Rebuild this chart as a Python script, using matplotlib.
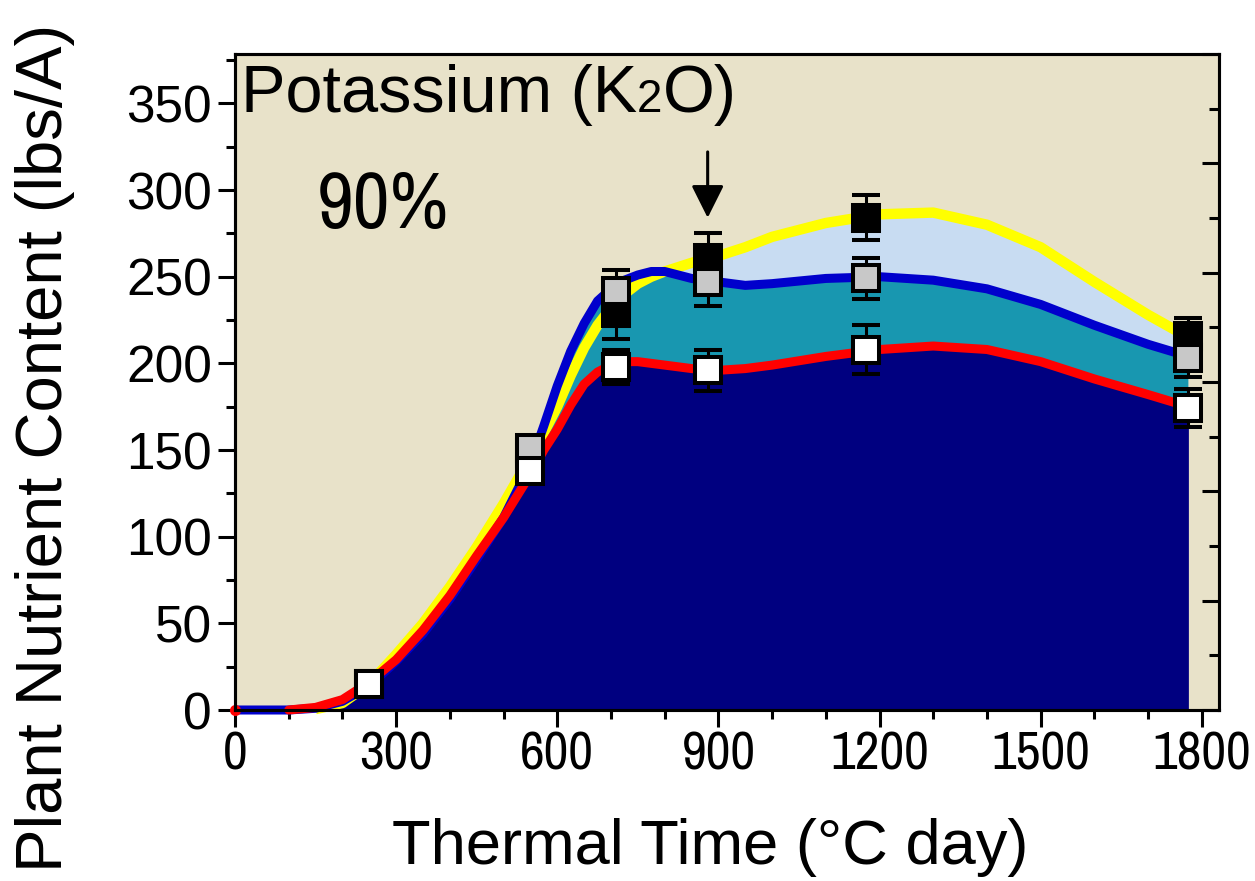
import numpy as np
import matplotlib
matplotlib.use("Agg")
import matplotlib.pyplot as plt
from matplotlib import font_manager as fm
from matplotlib.ticker import MultipleLocator, NullFormatter
from matplotlib.offsetbox import TextArea, HPacker, AnchoredOffsetbox

plt.rcParams['font.family'] = ['Liberation Sans', 'DejaVu Sans']

# the x tick labels and "90%" are in a narrow face in the original
narrow = None
for f in fm.fontManager.ttflist:
    nm = f.name
    if 'DejaVu' in nm:
        continue
    if 'Narrow' in nm or ('Condensed' in nm and 'Semi' not in nm and 'Extra' not in nm):
        narrow = nm
        break
if narrow:
    NARROW = [narrow, 'Liberation Sans', 'DejaVu Sans']
    xtick_size, pct_size = 39, 58
else:
    NARROW = ['Liberation Sans', 'DejaVu Sans']
    xtick_size, pct_size = 31, 48

# curves (thermal time in degC day)
tt = np.array([0, 50, 100, 150, 200, 250, 300, 350, 400, 450, 500, 550, 575, 600,
               625, 650, 675, 700, 725, 750, 775, 800, 850, 900, 950, 1000, 1100,
               1200, 1300, 1400, 1500, 1600, 1700, 1775])
red = np.array([0, np.nan, 0, 1.5, 6, 16, 29, 46, 66, 89, 111, 136, 150, 162,
                176, 188, 195, 199, 201, 201, 200, 199, 197, 196, 197, 199, 204,
                208, 210, 208, 201, 191, 182, 175])
blue = np.array([0, 0, 0, 1, 5, 14, 28, 44, 64, 87, 111, 142, 164, 187,
                 207, 223, 236, 243, 248, 251, 253, 253, 249, 247, 245, 246, 249,
                 250, 248, 243, 234, 222, 211, 204])
yellow = np.array([np.nan, np.nan, np.nan, 0.5, 4, 15, 32, 50, 71, 94, 119, 146, 160, 175,
                   193, 209, 222, 232, 240, 246, 250, 253, 258, 262, 267, 273, 281,
                   286, 287, 280, 267, 247, 228, 215])

# measured points
pt_x = [250, 550, 710, 880, 1175, 1775]
black_y = [15, 148, 229, 261, 284, 216]
black_err = [3, 5, 15, 14, 13, 10]
gray_y = [15, 151, 242, 247, 249, 203]
gray_err = [3, 5, 12, 14, 12, 11]
white_y = [15, 138, 198, 196, 208, 174]
white_err = [3, 5, 10, 12, 14, 11]

arrow_x = 880
arrow_from, arrow_to = 322, 284

fig = plt.figure(figsize=(12.55, 8.81), dpi=100)
ax = fig.add_axes([235/1255, 1-710/881, 984/1255, 656/881])
ax.set_facecolor('#e8e2c9')

red0 = np.nan_to_num(red)
yel0 = np.nan_to_num(yellow)
ax.fill_between(tt, 0, red0, color='#000080', lw=0, zorder=1)
ax.fill_between(tt, red0, blue, where=blue >= red0, interpolate=True,
                color='#1897b0', lw=0, zorder=1)
ax.fill_between(tt, blue, yel0, where=yel0 > blue, interpolate=True,
                color='#c8dcf2', lw=0, zorder=1)

ax.plot(tt, yellow, color='#ffff00', lw=7.5, solid_capstyle='butt',
        solid_joinstyle='round', zorder=3, clip_on=False)
ax.plot(tt, blue, color='#0000cc', lw=6.5, solid_capstyle='butt',
        solid_joinstyle='round', zorder=4, clip_on=False)
ax.plot(tt, red, color='#ff0000', lw=6.5, solid_capstyle='round',
        solid_joinstyle='round', zorder=5, clip_on=False,
        marker='o', markevery=[0], ms=8, mec='none')

for ys, es, fc, z in [(black_y, black_err, 'black', 6),
                      (gray_y, gray_err, '#c8c8c8', 7),
                      (white_y, white_err, 'white', 8)]:
    ax.errorbar(pt_x, ys, yerr=es, fmt='s', ms=18.5, mfc=fc, mec='black', mew=2.9,
                ecolor='black', elinewidth=2.2, capsize=10, capthick=2.2, zorder=z)

ax.annotate('', xy=(arrow_x, arrow_to), xytext=(arrow_x, arrow_from),
            arrowprops=dict(arrowstyle='-|>,head_length=0.4,head_width=0.2',
                            lw=2.2, color='black', mutation_scale=50,
                            shrinkA=0, shrinkB=0), zorder=9)

ax.set_xlim(0, 1832)
ax.set_ylim(0, 378.5)
ax.xaxis.set_major_locator(MultipleLocator(300))
ax.xaxis.set_minor_locator(MultipleLocator(100))
ax.yaxis.set_major_locator(MultipleLocator(50))
ax.yaxis.set_minor_locator(MultipleLocator(25))
ax.tick_params(which='both', direction='out', top=False, right=False, width=2.2)
ax.tick_params(which='major', length=12.5)
ax.tick_params(which='minor', length=6.5)
ax.tick_params(axis='y', which='major', labelsize=37, pad=4)
ax.tick_params(axis='x', which='major', labelsize=xtick_size, pad=2)
for lab in ax.get_xticklabels():
    lab.set_family(NARROW)
for sp in ax.spines.values():
    sp.set_linewidth(2.2)
    sp.set_zorder(6)

ax2 = ax.twinx()
ax2.set_ylim(0, 6)
ax2.yaxis.set_major_locator(MultipleLocator(1))
ax2.yaxis.set_minor_locator(MultipleLocator(0.5))
ax2.yaxis.set_major_formatter(NullFormatter())
ax2.tick_params(which='both', direction='in', width=2.2)
ax2.tick_params(which='major', length=12.5)
ax2.tick_params(which='minor', length=7)
for sp in ax2.spines.values():
    sp.set_linewidth(2.2)

ax.set_xlabel('Thermal Time (°C day)', fontsize=45.5)
ax.xaxis.set_label_coords(0.483, -0.164)
ax.set_ylabel('Plant Nutrient Content (lbs/A)', fontsize=47)
ax.yaxis.set_label_coords(-0.163, 0.40)

parts = HPacker(children=[TextArea('Potassium (K', textprops=dict(size=48)),
                          TextArea('2', textprops=dict(size=33)),
                          TextArea('O)', textprops=dict(size=48))],
                align='baseline', pad=0, sep=0)
box = AnchoredOffsetbox(loc='upper left', child=parts, pad=0, borderpad=0,
                        frameon=False, bbox_to_anchor=(0.006, 0.985),
                        bbox_transform=ax.transAxes)
box.set_zorder(10)
ax.add_artist(box)

ax.text(0.083, 0.735, '90%', transform=ax.transAxes, fontsize=pct_size,
        family=NARROW, va='baseline', ha='left', zorder=10)

fig.savefig('out.png', dpi=100)
